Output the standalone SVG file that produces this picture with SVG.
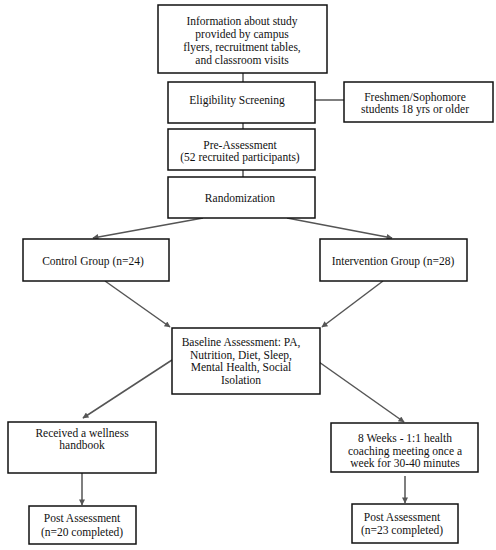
<svg xmlns="http://www.w3.org/2000/svg" width="496" height="550" viewBox="0 0 496 550">
<defs>
<marker id="ah" viewBox="0 0 10 10" refX="9" refY="5" markerWidth="8" markerHeight="6" orient="auto" markerUnits="userSpaceOnUse">
<path d="M0,0 L10,5 L0,10 z" fill="#555"/>
</marker>
<style>
.box{fill:#fff;stroke:#111;stroke-width:1.5}
.t{font-family:"Liberation Serif","DejaVu Serif",serif;font-size:11.5px;fill:#111;text-anchor:middle}
.c{stroke:#555;stroke-width:1.5;fill:none}
.a{stroke:#555;stroke-width:1.5;fill:none;marker-end:url(#ah)}
</style>
</defs>
<rect width="496" height="550" fill="#fff"/>
<g id="connectors">
<line class="c" x1="243" y1="73" x2="243" y2="82"/>
<line class="c" x1="315" y1="100" x2="344" y2="100"/>
<line class="c" x1="243" y1="123" x2="243" y2="129"/>
<line class="c" x1="243" y1="170" x2="243" y2="177"/>
<line class="a" x1="203" y1="218" x2="93" y2="238"/>
<line class="a" x1="287" y1="218" x2="392" y2="238"/>
<line class="a" x1="105" y1="281" x2="170" y2="327"/>
<line class="a" x1="383" y1="281" x2="322" y2="327"/>
<line class="a" x1="172" y1="360" x2="83" y2="418"/>
<line class="a" x1="319" y1="362" x2="404" y2="422"/>
<line class="a" x1="82" y1="473" x2="82" y2="505"/>
<line class="a" x1="405" y1="476" x2="405" y2="503"/>
</g>
<g id="info">
<rect class="box" x="158" y="5" width="169" height="68"/>
<text class="t" x="242" y="25">Information about study</text>
<text class="t" x="242" y="38">provided by campus</text>
<text class="t" x="242" y="51">flyers, recruitment tables,</text>
<text class="t" x="242" y="64">and classroom visits</text>
</g>
<g id="eligibility">
<rect class="box" x="168" y="82" width="147" height="41"/>
<text class="t" x="237" y="104">Eligibility Screening</text>
</g>
<g id="criteria">
<rect class="box" x="344" y="82" width="149" height="40"/>
<text class="t" x="415" y="101">Freshmen/Sophomore</text>
<text class="t" x="415" y="113">students 18 yrs or older</text>
</g>
<g id="pre">
<rect class="box" x="168" y="129" width="147" height="41"/>
<text class="t" x="240" y="149">Pre-Assessment</text>
<text class="t" x="240" y="161">(52 recruited participants)</text>
</g>
<g id="random">
<rect class="box" x="168" y="177" width="147" height="41"/>
<text class="t" x="240" y="202">Randomization</text>
</g>
<g id="control">
<rect class="box" x="23" y="239" width="146" height="42"/>
<text class="t" x="93" y="265">Control Group (n=24)</text>
</g>
<g id="intervention">
<rect class="box" x="320" y="239" width="147" height="42"/>
<text class="t" x="393" y="265">Intervention Group (n=28)</text>
</g>
<g id="baseline">
<rect class="box" x="172" y="328" width="148" height="66"/>
<text class="t" x="241" y="346">Baseline Assessment: PA,</text>
<text class="t" x="241" y="358.5">Nutrition, Diet, Sleep,</text>
<text class="t" x="241" y="371">Mental Health, Social</text>
<text class="t" x="241" y="383.5">Isolation</text>
</g>
<g id="handbook">
<rect class="box" x="8" y="422" width="148" height="51"/>
<text class="t" x="82" y="437">Received a wellness</text>
<text class="t" x="82" y="449">handbook</text>
</g>
<g id="coaching">
<rect class="box" x="331" y="423" width="147" height="49"/>
<text class="t" x="405" y="442">8 Weeks - 1:1 health</text>
<text class="t" x="405" y="454.5">coaching meeting once a</text>
<text class="t" x="405" y="467">week for 30-40 minutes</text>
</g>
<g id="post-control">
<rect class="box" x="29" y="506" width="107" height="38"/>
<text class="t" x="82" y="522">Post Assessment</text>
<text class="t" x="82" y="536">(n=20 completed)</text>
</g>
<g id="post-intervention">
<rect class="box" x="352" y="504" width="106" height="39"/>
<text class="t" x="402" y="521">Post Assessment</text>
<text class="t" x="402" y="534">(n=23 completed)</text>
</g>
</svg>
